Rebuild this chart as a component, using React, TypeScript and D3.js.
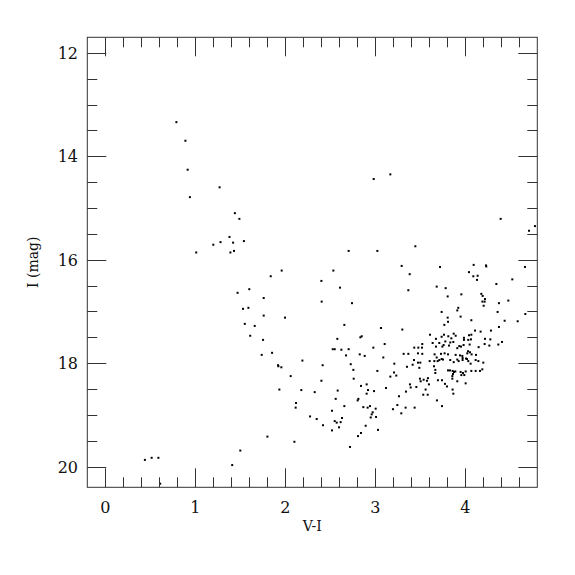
import React from "react";
import * as d3 from "d3";

// V-I colour and I magnitude of each star
const vi: number[] = [
  0.79, 0.89, 0.915, 1.27, 0.94, 1.44, 1.49, 1.38, 1.54, 1.42, 1.28, 1.2, 1.43, 1.39, 1.01,
  1.6, 1.47, 1.59, 1.53, 1.66, 1.55, 1.61, 0.44, 0.515, 0.59, 0.61, 1.41, 1.5,
  3.167, 2.982, 2.704, 3.023, 1.96, 2.534, 1.838, 2.401, 2.608, 1.76,
  4.393, 4.774, 4.708, 3.445, 3.293, 3.719, 4.093, 4.23, 4.233, 4.663, 3.382, 4.041, 4.089, 4.137,
  4.13, 4.522, 4.345, 3.367, 3.682, 3.782, 3.804, 3.956, 4.178, 4.193, 4.219,
  2.404, 2.741, 1.76, 1.997, 2.656, 1.753, 2.834, 2.849, 2.578, 2.527, 2.549, 2.623, 2.704, 2.978,
  1.853, 1.738, 2.675, 2.827, 2.882, 2.19, 2.727, 2.415, 1.919, 1.923, 1.956, 2.756, 3.023, 2.06,
  2.401, 2.76, 2.904, 2.841, 1.934, 2.178, 2.327, 2.582, 2.919, 2.986, 2.904, 2.56, 2.812, 2.804,
  2.119, 2.656, 2.867, 2.915, 2.941, 3.004, 2.115, 2.971, 2.519, 2.96, 2.275, 2.63, 2.949, 3.008,
  2.349, 2.549, 2.571, 2.615, 2.419, 2.893, 2.597, 2.519, 3.03, 2.841, 2.808, 1.801, 2.101, 2.719,
  4.19, 4.215, 4.204, 4.374, 4.478, 3.922, 3.911, 3.737, 4.359, 4.667, 3.804, 3.948, 4.067, 3.808,
  4.437, 4.582, 3.767, 4.374, 3.063, 3.3, 4.108, 4.17, 4.285, 3.608, 3.763, 3.871, 3.893, 3.737,
  3.811, 3.845, 3.674, 3.985, 4.041, 4.067, 4.033, 4.063, 3.985, 4.219, 4.278, 4.408, 3.778, 3.637,
  3.711, 3.833, 3.867, 3.104, 3.522, 3.433, 3.478, 3.519, 3.759, 3.745, 3.674, 3.819, 3.933, 3.952,
  3.911, 3.981, 4.048, 4.148, 4.215, 4.267, 4.367, 3.315, 3.367, 3.522, 3.474, 3.659, 3.73, 3.77,
  3.808, 3.893, 3.941, 3.967, 4.022, 4.03, 4.052, 4.07, 4.119, 3.97, 4.008, 3.089, 3.682, 3.737,
  3.711, 3.752, 3.833, 3.911, 3.871, 3.926, 3.97, 4.019, 4.033, 4.059, 4.115, 4.145, 4.2, 3.43,
  3.474, 3.5, 3.604, 3.656, 3.693, 3.211, 3.415, 3.352, 3.489, 3.652, 3.667, 3.667, 3.808, 3.83,
  3.859, 3.874, 3.863, 3.889, 3.948, 3.974, 3.989, 3.956, 4.004, 4.067, 4.115, 4.163, 4.189, 3.856,
  3.856, 3.911, 3.208, 3.167, 3.233, 3.496, 3.537, 3.585, 3.504, 3.574, 3.596, 3.696, 3.741, 3.774,
  3.385, 3.456, 3.393, 3.119, 3.796, 4.004, 3.859, 3.867, 3.559, 3.533, 3.582, 3.341, 3.263, 3.685,
  3.245, 3.196, 3.337, 3.437, 3.289, 3.741,
];
const imag: number[] = [
  13.34, 13.7, 14.26, 14.6, 14.79, 15.1, 15.21, 15.56, 15.64, 15.67, 15.66, 15.71, 15.83, 15.86, 15.86,
  16.57, 16.64, 16.93, 16.95, 17.28, 17.24, 17.47, 19.87, 19.83, 19.83, 20.33, 19.97, 19.69,
  14.35, 14.44, 15.83, 15.83, 16.21, 16.21, 16.32, 16.41, 16.54, 16.74,
  15.21, 15.35, 15.44, 15.74, 16.12, 16.14, 16.1, 16.11, 16.13, 16.14, 16.28, 16.24, 16.32, 16.31,
  16.39, 16.38, 16.47, 16.59, 16.52, 16.55, 16.71, 16.67, 16.66, 16.7, 16.76,
  16.81, 16.84, 17.08, 17.12, 17.26, 17.55, 17.5, 17.48, 17.53, 17.73, 17.73, 17.74, 17.73, 17.7,
  17.8, 17.84, 17.85, 17.83, 17.86, 17.95, 18.02, 18.04, 18.04, 18.06, 18.08, 18.13, 18.15, 18.25,
  18.34, 18.3, 18.41, 18.44, 18.51, 18.52, 18.56, 18.53, 18.52, 18.54, 18.59, 18.69, 18.69, 18.72,
  18.77, 18.83, 18.85, 18.86, 18.83, 18.88, 18.86, 18.95, 18.92, 18.99, 19.03, 19.06, 19.05, 19.04,
  19.08, 19.12, 19.15, 19.14, 19.2, 19.21, 19.24, 19.3, 19.29, 19.35, 19.41, 19.42, 19.52, 19.62,
  16.81, 16.81, 16.89, 16.84, 16.79, 16.93, 16.98, 17.01, 17.01, 17.05, 17.12, 17.1, 17.17, 17.2,
  17.18, 17.19, 17.26, 17.3, 17.32, 17.35, 17.37, 17.39, 17.37, 17.45, 17.45, 17.43, 17.47, 17.49,
  17.48, 17.52, 17.53, 17.51, 17.46, 17.45, 17.55, 17.54, 17.55, 17.53, 17.54, 17.59, 17.58, 17.61,
  17.61, 17.6, 17.59, 17.63, 17.63, 17.7, 17.7, 17.7, 17.65, 17.68, 17.68, 17.66, 17.67, 17.68,
  17.71, 17.65, 17.64, 17.69, 17.63, 17.66, 17.64, 17.82, 17.82, 17.82, 17.81, 17.83, 17.82, 17.81,
  17.83, 17.84, 17.85, 17.86, 17.81, 17.77, 17.79, 17.83, 17.84, 17.9, 17.91, 17.89, 17.89, 17.92,
  17.94, 17.93, 17.94, 17.93, 17.98, 17.96, 17.94, 17.92, 17.96, 18.01, 17.94, 17.96, 17.99, 17.94,
  17.99, 17.99, 17.96, 17.96, 17.96, 18.01, 18.03, 18.07, 18.09, 18.06, 18.13, 18.19, 18.14, 18.14,
  18.15, 18.17, 18.21, 18.16, 18.17, 18.19, 18.23, 18.23, 18.16, 18.15, 18.15, 18.15, 18.12, 18.25,
  18.3, 18.35, 18.18, 18.26, 18.24, 18.3, 18.32, 18.29, 18.35, 18.34, 18.41, 18.33, 18.33, 18.4,
  18.41, 18.46, 18.47, 18.48, 18.45, 18.39, 18.51, 18.59, 18.51, 18.61, 18.61, 18.55, 18.64, 18.72,
  18.81, 18.89, 18.86, 18.86, 18.97, 18.83,
];

const xMajor = [0, 1, 2, 3, 4];
const yMajor = [12, 14, 16, 18, 20];
const xTitle = "V-I";
const yTitle = "I (mag)";

const W = 575;
const H = 575;
const L = 87.3;
const R = 537.3;
const T = 37.3;
const B = 487.3;
const FONT = "'DejaVu Serif', serif";
const AX = "#333";

export default function App() {
  const x = d3.scaleLinear().domain([-0.2, 4.8]).range([L, R]);
  const y = d3.scaleLinear().domain([11.7, 20.4]).range([T, B]);
  const xMinor = d3.range(0, 25).map((i) => +(-0.2 + i * 0.2).toFixed(2)).filter((v) => v > -0.2);
  const yMinor = d3.range(12, 20.5, 0.5);
  const isMajorX = (v: number) => xMajor.some((m) => Math.abs(m - v) < 1e-6);
  const isMajorY = (v: number) => yMajor.some((m) => Math.abs(m - v) < 1e-6);
  const pts = vi.map((v, i) => ({ v, m: imag[i] }));
  return (
    <div style={{ position: "absolute", left: 0, top: 0 }}>
      <svg width={W} height={H} style={{ display: "block", background: "#fff" }}>
        <g>
          {pts.map((p, i) => (
            <rect
              key={i}
              x={x(p.v) - 1}
              y={y(p.m) - 1}
              width={2}
              height={2}
              fill="#000"
            />
          ))}
        </g>
        <g stroke={AX} strokeWidth={1} fill="none">
          <rect x={L} y={T} width={R - L} height={B - T} />
          {xMinor.map((v, i) => {
            const len = isMajorX(v) ? 19 : 10;
            const px = Math.round(x(v)) + 0.5;
            return (
              <g key={"xt" + i}>
                <line x1={px} x2={px} y1={B} y2={B - len} />
                <line x1={px} x2={px} y1={T} y2={T + len} />
              </g>
            );
          })}
          {yMinor.map((v, i) => {
            const len = isMajorY(v) ? 19 : 10;
            const py = Math.round(y(v)) + 0.5;
            return (
              <g key={"yt" + i}>
                <line x1={L} x2={L + len} y1={py} y2={py} />
                <line x1={R} x2={R - len} y1={py} y2={py} />
              </g>
            );
          })}
        </g>
        <g fontFamily={FONT} fontSize={16} fill="#111">
          {xMajor.map((v) => (
            <text key={"xl" + v} x={x(v)} y={513} textAnchor="middle">
              {v}
            </text>
          ))}
          {yMajor.map((v) => (
            <text key={"yl" + v} x={78} y={y(v) + 6} textAnchor="end">
              {v}
            </text>
          ))}
        </g>
        <text x={(L + R) / 2} y={531} textAnchor="middle" fontFamily={FONT} fontSize={14} fill="#111">
          {xTitle}
        </text>
        <text
          transform={`translate(38,${(T + B) / 2}) rotate(-90)`}
          textAnchor="middle"
          fontFamily={FONT}
          fontSize={14}
          fill="#111"
        >
          {yTitle}
        </text>
      </svg>
    </div>
  );
}
